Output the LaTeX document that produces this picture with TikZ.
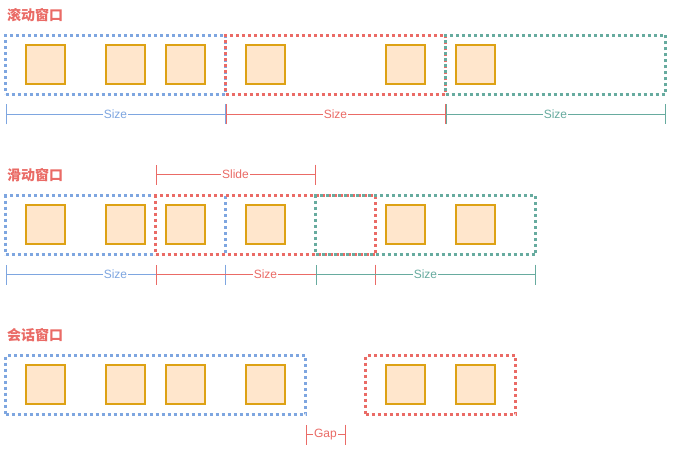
\documentclass[tikz,border=0pt]{standalone}
\usepackage{fontspec}
\setmainfont{Liberation Sans}
\newfontfamily\cjk{Noto Sans CJK SC}
\usetikzlibrary{arrows.meta, positioning}
\definecolor{winblue}{HTML}{7EA6E0}
\definecolor{winred}{HTML}{EA6B66}
\definecolor{wingreen}{HTML}{67AB9F}
\definecolor{itemfill}{HTML}{FFE6CC}
\definecolor{itemline}{HTML}{DDA215}
\tikzstyle{window} = [rectangle, anchor=north west, inner sep=0pt, outer sep=0pt, minimum height=59pt, line width=3pt, dash pattern=on 3pt off 3pt]
\tikzstyle{item} = [rectangle, anchor=north west, inner sep=0pt, outer sep=0pt, minimum size=39pt, draw=itemline, fill=itemfill, line width=2pt]
\tikzstyle{title} = [anchor=west, inner sep=0pt, text=winred, font=\cjk\bfseries\fontsize{14}{14}\selectfont]
\tikzstyle{dim} = [line width=1pt, {Bar[width=20pt]}-{Bar[width=20pt]}]
\tikzstyle{dimlabel} = [fill=white, inner sep=1pt, font=\fontsize{12}{12}\selectfont]

\begin{document}
\begin{tikzpicture}[x=1pt, y=-1pt]
\useasboundingbox[fill=white] (0,0) rectangle (673,452);

% 滚动窗口
\node (rollTitle) [title] at (7,15) {滚动窗口};
\node (roll1) [window, draw=winblue, minimum width=220pt] at (5.5,35.5) {};
\node (roll2) [window, draw=winred, minimum width=220pt] at (225.5,35.5) {};
\node (roll3) [window, draw=wingreen, minimum width=220pt] at (445.5,35.5) {};
\foreach \x in {25,105,165,245,385,455}
  \node (rollItem\x) [item] at (\x+1,45) {};

\coordinate (rollA) at (5.5,114.5);
\coordinate (rollB) at (225.5,114.5);
\coordinate (rollC) at (445.5,114.5);
\coordinate (rollD) at (665.5,114.5);
\draw [dim, winblue] (rollA) -- node[dimlabel] {Size} (rollB);
\draw [dim, winred] (rollB) -- node[dimlabel] {Size} (rollC);
\draw [dim, wingreen] (rollC) -- node[dimlabel] {Size} (rollD);

% 滑动窗口
\node (slideTitle) [title] at (7,175) {滑动窗口};
\node (slide1) [window, draw=winblue, minimum width=220pt] at (5.5,195.5) {};
\node (slide2) [window, draw=winred, minimum width=220pt] at (155.5,195.5) {};
\node (slide3) [window, draw=wingreen, minimum width=220pt] at (315.5,195.5) {};
\foreach \x in {25,105,165,245,385,455}
  \node (slideItem\x) [item] at (\x+1,205) {};

\coordinate (slideS1) at (155.5,174.5);
\coordinate (slideS2) at (315.5,174.5);
\draw [dim, winred] (slideS1) -- node[dimlabel] {Slide} (slideS2);

\coordinate (slideA1) at (5.5,274.5);
\coordinate (slideA2) at (225.5,274.5);
\coordinate (slideB1) at (155.5,274.5);
\coordinate (slideB2) at (375.5,274.5);
\coordinate (slideC1) at (315.5,274.5);
\coordinate (slideC2) at (535.5,274.5);
\draw [dim, winblue] (slideA1) -- node[dimlabel] {Size} (slideA2);
\draw [dim, winred] (slideB1) -- node[dimlabel] {Size} (slideB2);
\draw [dim, wingreen] (slideC1) -- node[dimlabel] {Size} (slideC2);

% 会话窗口
\node (sessTitle) [title] at (7,335) {会话窗口};
\node (sess1) [window, draw=winblue, minimum width=300pt] at (5.5,355.5) {};
\node (sess2) [window, draw=winred, minimum width=150pt] at (365.5,355.5) {};
\foreach \x in {25,105,165,245,385,455}
  \node (sessItem\x) [item] at (\x+1,365) {};

\coordinate (gapA) at (305.5,434.5);
\coordinate (gapB) at (345.5,434.5);
\draw [dim, winred] (gapA) -- node[dimlabel] {Gap} (gapB);

\end{tikzpicture}
\end{document}
